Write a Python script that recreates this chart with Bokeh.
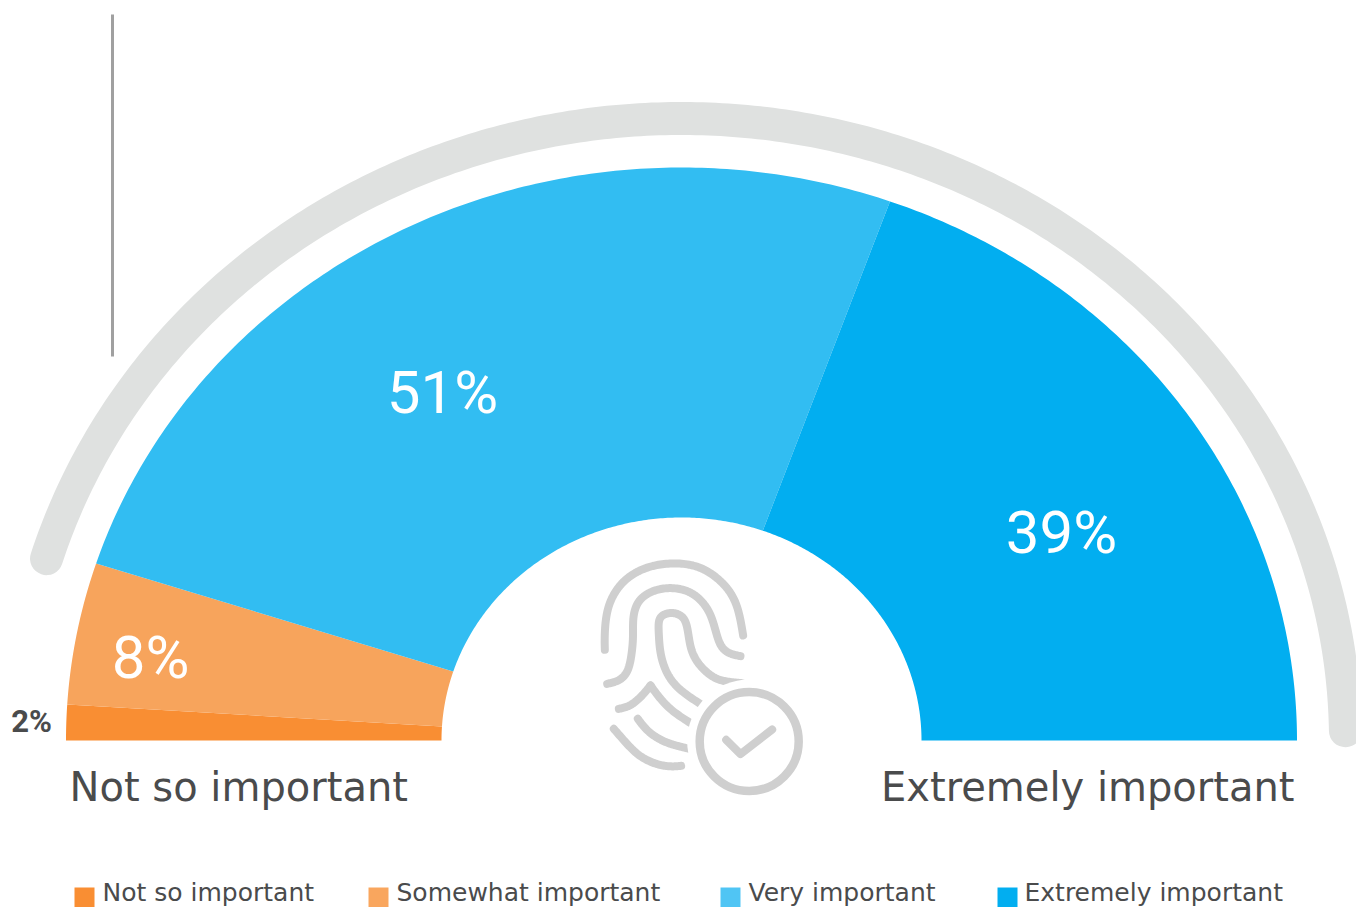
import numpy as np
from bokeh.core.properties import value
from bokeh.embed import file_html
from bokeh.models import Range1d
from bokeh.plotting import figure
from bokeh.resources import INLINE

# Survey shares
categories = ["Not so important", "Somewhat important", "Very important", "Extremely important"]
shares = [2, 8, 51, 39]
share_labels = ["2%", "8%", "51%", "39%"]
scale_ends = ["Not so important", "Extremely important"]

W, H = 1356, 907
CX, CY = 681, 740
# The half-doughnut is slightly wider than tall
RX_OUT, RY_OUT = 615.5, 573
RX_IN, RY_IN = 240, 223
slice_colors = ["#F98E33", "#F7A45C", "#32BDF2", "#02AEF0"]
swatch_colors = ["#F98E33", "#F9A65E", "#50C5F4", "#02AEF0"]
INK = "#4A4B4C"
ICON = "#CFCFCF"


def y_up(y):
    """Page-style y (downward) to the plot's upward axis."""
    return H - np.asarray(y, dtype=float)


p = figure(width=W, height=H, output_backend="svg", toolbar_location=None,
           x_range=Range1d(0, W), y_range=Range1d(0, H),
           min_border=0, outline_line_color=None, background_fill_color="white")
p.axis.visible = False
p.grid.visible = False

# Half-doughnut: shares sweep clockwise from the left end of the baseline
edges = np.cumsum([0] + shares) / sum(shares) * np.pi
for a0, a1, color in zip(edges[:-1], edges[1:], slice_colors):
    a = np.pi - np.linspace(a0, a1, 160)
    xs = np.r_[CX + RX_OUT * np.cos(a), CX + RX_IN * np.cos(a[::-1])]
    ys = np.r_[CY - RY_OUT * np.sin(a), CY - RY_IN * np.sin(a[::-1])]
    p.patch(xs, y_up(ys), fill_color=color, line_color=None)

# Elliptical grey band above the doughnut
t = np.linspace(np.radians(163.0), np.radians(0.9), 300)
p.line(CX + 664 * np.cos(t), y_up(CY - 622 * np.sin(t)),
       line_color="#DFE1E0", line_width=33, line_cap="round", line_join="round")

# Thin vertical rule
p.line([112, 112], y_up([14, 356]), line_color="#A0A0A0", line_width=3)

# Percentage labels
label_x = [31, 150, 442, 1061]
label_y = [721, 657, 392, 532]
label_size = ["31px", "60px", "60px", "60px"]
label_color = [INK, "white", "white", "white"]
for txt, lx, ly, ls, lc in zip(share_labels, label_x, label_y, label_size, label_color):
    p.text([lx], y_up([ly]), text=[txt], text_font=value("Roboto"),
           text_font_size=ls, text_color=lc, text_align="center", text_baseline="middle",
           text_font_style="bold" if txt == "2%" else "normal")

# End captions of the scale
p.text([69], y_up([786]), text=[scale_ends[0]], text_font=value("DejaVu Sans"), text_font_size="40px",
       text_color=INK, text_align="left", text_baseline="middle")
p.text([1294], y_up([786]), text=[scale_ends[1]], text_font=value("DejaVu Sans"), text_font_size="40px",
       text_color=INK, text_align="right", text_baseline="middle")

# Legend row
swatch_x = [74, 368, 720, 997]
text_x = [102, 396, 748, 1024]
for c, sx, tx, name in zip(swatch_colors, swatch_x, text_x, categories):
    p.quad(left=[sx], right=[sx + 20], top=y_up([887]), bottom=y_up([907]),
           fill_color=c, line_color=None)
    p.text([tx], y_up([892]), text=[name], text_font=value("DejaVu Sans"), text_font_size="25px",
           text_color=INK, text_align="left", text_baseline="middle")


def smooth(points, n=14, window=15):
    """Catmull-Rom curve through hand-placed icon nodes, lightly averaged to remove kinks."""
    pts = np.asarray(points, dtype=float)
    pts = np.vstack([2 * pts[0] - pts[1], pts, 2 * pts[-1] - pts[-2]])
    out = []
    for i in range(1, len(pts) - 2):
        p0, p1, p2, p3 = pts[i - 1], pts[i], pts[i + 1], pts[i + 2]
        for s in np.linspace(0, 1, n, endpoint=False):
            out.append(0.5 * (2 * p1 + (p2 - p0) * s + (2 * p0 - 5 * p1 + 4 * p2 - p3) * s ** 2
                              + (3 * p1 - p0 - 3 * p2 + p3) * s ** 3))
    out.append(pts[-2])
    out = np.array(out)
    half = window // 2
    padded = np.vstack([2 * out[0] - out[half:0:-1], out, 2 * out[-1] - out[-2:-half - 2:-1]])
    kernel = np.ones(window) / window
    return np.column_stack([np.convolve(padded[:, k], kernel, mode="valid") for k in (0, 1)])


def icon_line(points, curved=True):
    nodes = np.asarray(points, dtype=float) / 3 + np.array([560, 530])
    xy = smooth(nodes) if curved else nodes
    p.line(xy[:, 0], y_up(xy[:, 1]), line_color=ICON, line_width=8,
           line_cap="round", line_join="round")


# Fingerprint ridges
icon_line([(133, 358), (133, 300), (145, 220), (190, 150), (260, 110), (340, 98),
           (420, 110), (490, 160), (530, 225), (548, 315)])
icon_line([(140, 460), (175, 450), (200, 425), (212, 380), (218, 320), (218, 260), (235, 210),
           (280, 180), (340, 172), (400, 190), (445, 240), (465, 300), (480, 345),
           (505, 368), (540, 377)])
icon_line([(435, 530), (360, 480), (320, 430), (300, 370), (295, 310), (295, 270), (310, 252),
           (340, 247), (370, 262), (382, 300), (390, 350), (410, 395), (450, 435),
           (490, 452), (545, 458)])
icon_line([(175, 535), (210, 525), (245, 495), (270, 465)])
icon_line([(270, 465), (300, 505), (340, 545), (410, 590)])
icon_line([(232, 565), (260, 600), (300, 628), (345, 645), (410, 660)])
icon_line([(160, 595), (195, 635), (235, 675), (285, 700), (330, 708), (362, 706)])

# Check badge, with a white halo that trims the ridges beneath it
BX, BY = 748.7, 741
p.scatter([BX], y_up([BY]), size=124, marker="circle", fill_color="white", line_color=None)
p.scatter([BX], y_up([BY]), size=99, marker="circle", fill_color="white",
          line_color=ICON, line_width=8.5)
icon_line([(497, 628), (540, 671), (635, 597)], curved=False)

open("out.html", "w").write(file_html(p, INLINE))
